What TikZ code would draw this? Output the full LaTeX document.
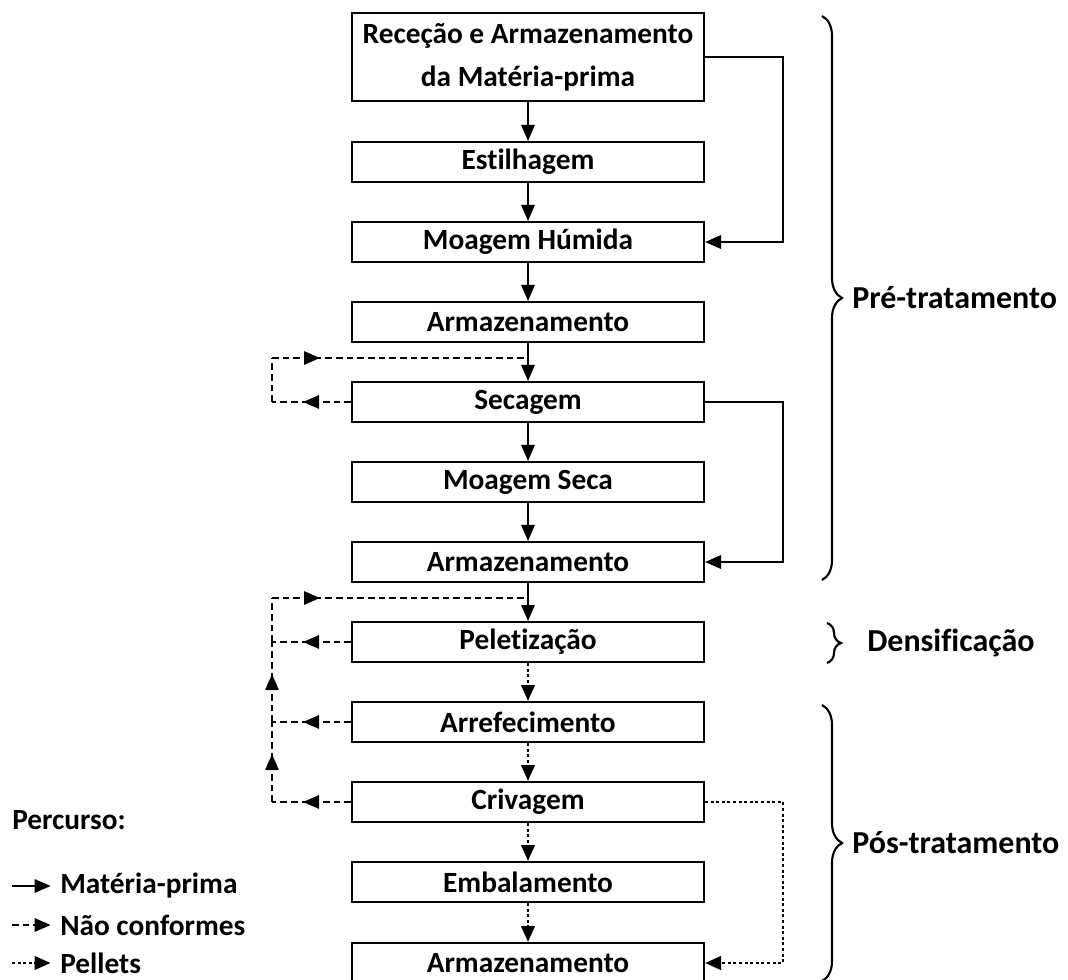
\documentclass[tikz,border=0pt]{standalone}
\usepackage{fontspec}
\setmainfont{Carlito}[Ligatures=NoCommon]
\usetikzlibrary{arrows.meta,decorations.markings,decorations.pathreplacing}

\begin{document}
\begin{tikzpicture}[
  x=0.75pt, y=-0.75pt,
  stage/.style={draw, line width=1.5pt, minimum width=264pt, minimum height=30pt, inner sep=0pt, align=center, font=\fontsize{22}{32}\selectfont\bfseries},
  flow/.style={line width=1.5pt, -{Triangle[length=12pt,width=10pt]}},
  pellet/.style={flow, line width=2.2pt, dash pattern=on 2.2pt off 2pt},
  reject/.style={line width=1.5pt, dash pattern=on 5pt off 3pt},
  mid/.style={postaction={decorate}, decoration={markings, mark=at position 36pt with {\arrow{Triangle[length=12pt,width=10pt]}}}},
  group/.style={decorate, decoration={brace, amplitude=15pt}, line width=1.6pt},
  grouplbl/.style={anchor=west, inner sep=0pt, font=\fontsize{24}{28}\selectfont\bfseries},
  key/.style={anchor=west, inner sep=0pt, font=\fontsize{22}{26}\selectfont\bfseries}
]
  \useasboundingbox (0,0) rectangle (1068,980);

  % stages
  \node[stage, minimum height=66pt] (rec) at (528,57) {Receção e Armazenamento\\da Matéria-prima};
  \node[stage] (estilh) at (528,162) {Estilhagem};
  \node[stage] (moagh)  at (528,242) {Moagem Húmida};
  \node[stage] (armaz1) at (528,322) {Armazenamento};
  \node[stage] (secag)  at (528,402) {Secagem};
  \node[stage] (moags)  at (528,482) {Moagem Seca};
  \node[stage] (armaz2) at (528,562) {Armazenamento};
  \node[stage] (pelet)  at (528,642) {Peletização};
  \node[stage] (arref)  at (528,722) {Arrefecimento};
  \node[stage] (criv)   at (528,802) {Crivagem};
  \node[stage] (embal)  at (528,882) {Embalamento};
  \node[stage] (armaz3) at (528,963) {Armazenamento};

  \coordinate (rx) at (783,0);
  \coordinate (lx) at (272,0);
  \coordinate (j1) at (528,358);
  \coordinate (j2) at (528,598);

  % raw material
  \draw[flow] (rec) -- (estilh);
  \draw[flow] (estilh) -- (moagh);
  \draw[flow] (moagh) -- (armaz1);
  \draw[flow] (armaz1) -- (secag);
  \draw[flow] (secag) -- (moags);
  \draw[flow] (moags) -- (armaz2);
  \draw[flow] (armaz2) -- (pelet);
  \draw[flow] (rec.east) -- (rec.east -| rx) |- (moagh.east);
  \draw[flow] (secag.east) -- (secag.east -| rx) |- (armaz2.east);

  % pellets
  \draw[pellet] (pelet) -- (arref);
  \draw[pellet] (arref) -- (criv);
  \draw[pellet] (criv) -- (embal);
  \draw[pellet] (embal) -- (armaz3);
  \draw[pellet] (criv.east) -- (criv.east -| rx) |- (armaz3.east);

  % rejected material, drying
  \draw[reject, mid] (secag.west) -- (secag.west -| lx);
  \draw[reject] (secag.west -| lx) -- (j1 -| lx);
  \draw[reject, mid] (j1 -| lx) -- (j1);

  % rejected material, pellets
  \draw[reject, mid] (pelet.west) -- (pelet.west -| lx);
  \draw[reject, mid] (arref.west) -- (arref.west -| lx);
  \draw[reject, mid] (criv.west) -- (criv.west -| lx);
  \draw[reject, mid] (criv.west -| lx) -- (arref.west -| lx);
  \draw[reject, mid] (arref.west -| lx) -- (pelet.west -| lx);
  \draw[reject] (pelet.west -| lx) -- (j2 -| lx);
  \draw[reject, mid] (j2 -| lx) -- (j2);

  % phases
  \draw[group] (822,16) -- (822,580);
  \node[grouplbl] (pre) at (852,298) {Pré-tratamento};
  \draw[group, decoration={amplitude=10.5pt}] (827,623) -- (827,663);
  \node[grouplbl] (dens) at (867,643) {Densificação};
  \draw[group] (822,705) -- (822,981);
  \node[grouplbl] (pos) at (852,843) {Pós-tratamento};

  % legend
  \node[key] (perc) at (12,820) {Percurso:};
  \node[key] (kmp) at (60,886) {Matéria-prima};
  \node[key] (knc) at (60,925) {Não conformes};
  \node[key] (kpel) at (60,963) {Pellets};
  \draw[flow] ([xshift=-36pt]kmp.west) -- ([xshift=-7pt]kmp.west);
  \draw[reject, -{Triangle[length=12pt,width=10pt]}] ([xshift=-36pt]knc.west) -- ([xshift=-7pt]knc.west);
  \draw[pellet] ([xshift=-36pt]kpel.west) -- ([xshift=-7pt]kpel.west);
\end{tikzpicture}
\end{document}
